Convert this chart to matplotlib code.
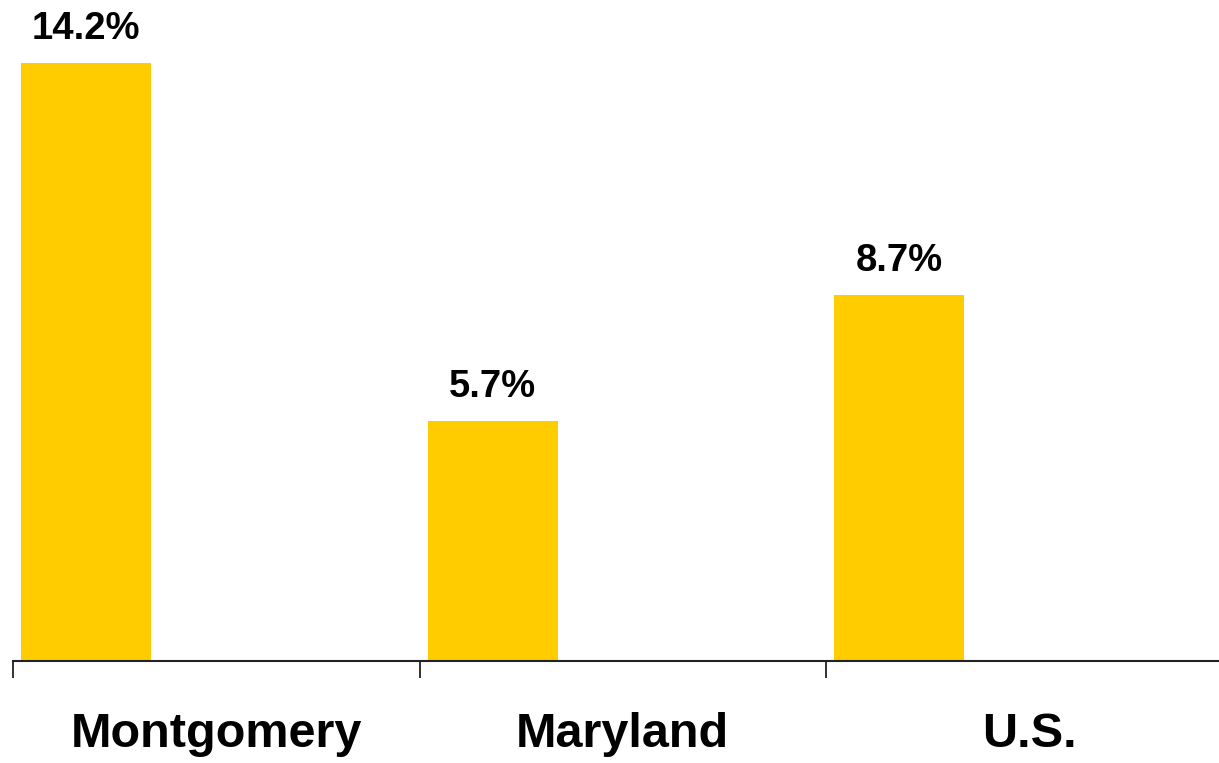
import numpy as np
import matplotlib.pyplot as plt

plt.rcParams['font.family'] = ['Liberation Sans', 'DejaVu Sans']

regions = ['Montgomery', 'Maryland', 'U.S.']
values = [14.2, 5.7, 8.7]
value_labels = ['14.2%', '5.7%', '8.7%']

fig = plt.figure(figsize=(12.19, 7.63), dpi=100)
# axes runs a little past the right edge of the figure, like the original
ax = fig.add_axes([13 / 1219, 102 / 763, 1219.5 / 1219, 661 / 763])

x = np.arange(len(regions))
ax.bar(x + 0.02, values, width=0.32, align='edge', color='#FFCC00')

for xi, v, lab in zip(x, values, value_labels):
    ax.text(xi + 0.18, v + 0.38, lab, ha='center', va='bottom',
            fontsize=27.5, fontweight='bold')

ax.set_xlim(0, 3)
ax.set_ylim(0, 661 / 42.1)

ax.set_xticks([0, 1, 2])
ax.set_xticklabels([])
ax.tick_params(axis='x', which='major', direction='out', length=12.5, width=1.3, color='#222222')
ax.set_xticks(x + 0.5, minor=True)
ax.set_xticklabels(regions, minor=True, fontsize=35, fontweight='bold')
ax.tick_params(axis='x', which='minor', length=0, pad=37)

ax.set_yticks([])
for s in ['top', 'right', 'left']:
    ax.spines[s].set_visible(False)
ax.spines['bottom'].set_linewidth(1.5)
ax.spines['bottom'].set_color('#222222')

fig.savefig('out.png', dpi=100)
